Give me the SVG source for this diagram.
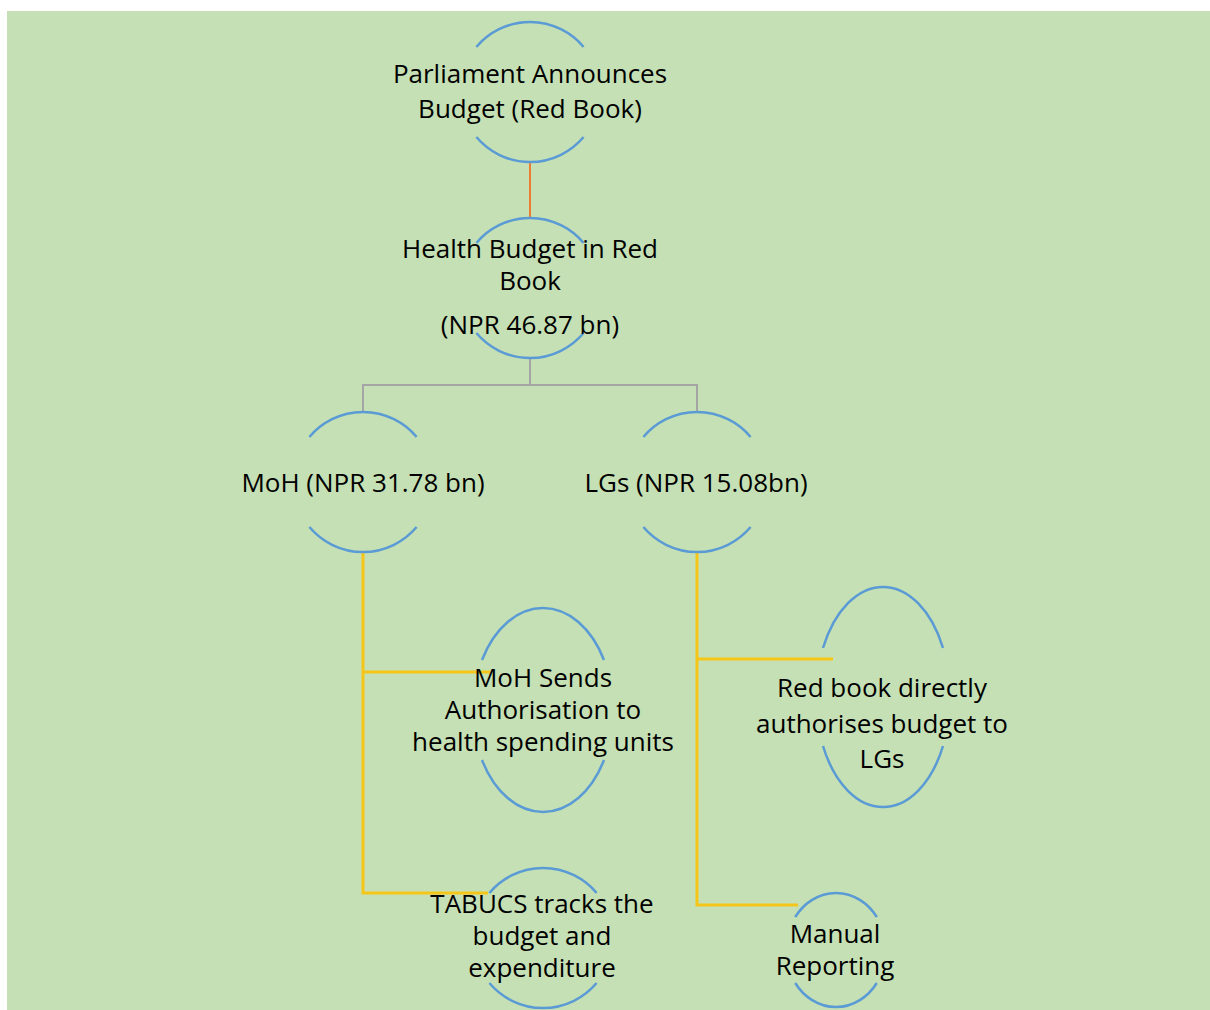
<svg xmlns="http://www.w3.org/2000/svg" width="1210" height="1010" viewBox="0 0 1210 1010">
<style>
.bg{fill:#C5E0B4}
.arc{fill:none;stroke:#5B9BD5;stroke-width:2.5}
.lbl{font-family:"Open Sans","Liberation Sans",sans-serif;font-size:26px;fill:#000;text-anchor:middle}
.c-or{fill:none;stroke:#ED7D31;stroke-width:2}
.c-gr{fill:none;stroke:#A5A5A5;stroke-width:2}
.c-ye{fill:none;stroke:#F5C518;stroke-width:3}
</style>
<rect class="bg" x="7" y="11" width="1203" height="999"/>
<g id="connectors">
<path class="c-or" d="M530,162 V218"/>
<path class="c-gr" d="M530,357 V385 M363,412 V385 H697 V412"/>
<path class="c-ye" d="M363,553 V893 H488 M363,672 H490"/>
<path class="c-ye" d="M697,553 V905 H798 M697,659 H833"/>
</g>
<g id="n-parliament">
<path class="arc" d="M476.4,47 A70,70 0 0 1 583.6,47 M476.4,137 A70,70 0 0 0 583.6,137"/>
<text class="lbl" x="530" y="83">Parliament Announces</text>
<text class="lbl" x="530" y="118">Budget (Red Book)</text>
</g>
<g id="n-health">
<path class="arc" d="M476.4,243 A70,70 0 0 1 583.6,243 M476.4,333 A70,70 0 0 0 583.6,333"/>
<text class="lbl" x="530" y="258">Health Budget in Red</text>
<text class="lbl" x="530" y="290">Book</text>
<text class="lbl" x="530" y="334">(NPR 46.87 bn)</text>
</g>
<g id="n-moh">
<path class="arc" d="M309.4,437 A70,70 0 0 1 416.6,437 M309.4,527 A70,70 0 0 0 416.6,527"/>
<text class="lbl" x="363" y="492">MoH (NPR 31.78 bn)</text>
</g>
<g id="n-lgs">
<path class="arc" d="M643.4,437 A70,70 0 0 1 750.6,437 M643.4,527 A70,70 0 0 0 750.6,527"/>
<text class="lbl" x="696" y="492">LGs (NPR 15.08bn)</text>
</g>
<g id="n-moh-sends">
<path class="arc" d="M482,660 A70,102 0 0 1 604,660 M482,760 A70,102 0 0 0 604,760"/>
<text class="lbl" x="543" y="687">MoH Sends</text>
<text class="lbl" x="543" y="719">Authorisation to</text>
<text class="lbl" x="543" y="751">health spending units</text>
</g>
<g id="n-redbook">
<path class="arc" d="M823,648 A67,110 0 0 1 943,648 M823,746 A67,110 0 0 0 943,746"/>
<text class="lbl" x="882" y="697">Red book directly</text>
<text class="lbl" x="882" y="733">authorises budget to</text>
<text class="lbl" x="882" y="768">LGs</text>
</g>
<g id="n-tabucs">
<path class="arc" d="M489.4,893 A70,70 0 0 1 596.6,893 M489.4,983 A70,70 0 0 0 596.6,983"/>
<text class="lbl" x="542" y="913">TABUCS tracks the</text>
<text class="lbl" x="542" y="945">budget and</text>
<text class="lbl" x="542" y="977">expenditure</text>
</g>
<g id="n-manual">
<path class="arc" d="M795.2,917 A50,57 0 0 1 876.8,917 M795.2,983 A50,57 0 0 0 876.8,983"/>
<text class="lbl" x="835" y="943">Manual</text>
<text class="lbl" x="835" y="975">Reporting</text>
</g>
</svg>
